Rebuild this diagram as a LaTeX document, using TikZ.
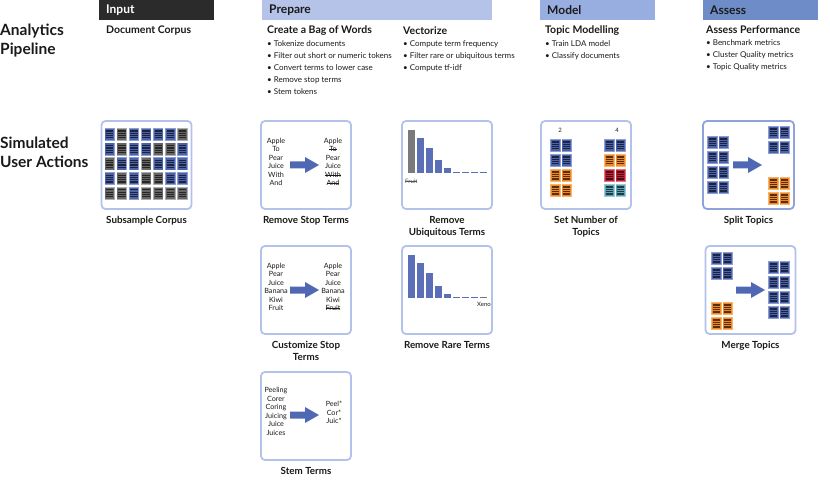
\documentclass[tikz,border=0pt]{standalone}
\usepackage{fontspec}
\setmainfont{Lato}
\usepackage{tikz}
\usetikzlibrary{positioning}
\definecolor{ink}{HTML}{1A1A1A}
\definecolor{inputbar}{HTML}{2B2B2B}
\definecolor{preparebar}{HTML}{B5C3E8}
\definecolor{modelbar}{HTML}{98ADE0}
\definecolor{assessbar}{HTML}{6E8DC8}
\definecolor{panelline}{HTML}{B3C2EA}
\definecolor{panelsplit}{HTML}{8FA3DA}
\definecolor{arrowblue}{HTML}{5068B4}
\definecolor{barblue}{HTML}{5A6FB8}
\definecolor{bargray}{HTML}{7A7A7A}
% document icon colours: F fill, E edge, S stripes
\definecolor{cbF}{HTML}{4D63A8}\definecolor{cbE}{HTML}{8D9DD6}\definecolor{cbS}{HTML}{1C2340}
\definecolor{cgF}{HTML}{666666}\definecolor{cgE}{HTML}{AEAEAE}\definecolor{cgS}{HTML}{262626}
\definecolor{coF}{HTML}{EE8A26}\definecolor{coE}{HTML}{F6B46C}\definecolor{coS}{HTML}{5A2E0A}
\definecolor{crF}{HTML}{C4203A}\definecolor{crE}{HTML}{E27482}\definecolor{crS}{HTML}{4A0A14}
\definecolor{ctF}{HTML}{5AA4B6}\definecolor{ctE}{HTML}{9CCBD6}\definecolor{ctS}{HTML}{1E3A42}
\newsavebox{\strkbox}
\newcommand{\strk}[1]{\sbox{\strkbox}{#1}\rlap{\rule[0.3em]{\wd\strkbox}{0.4pt}}\usebox{\strkbox}}
\tikzset{
  sidetitle/.style={anchor=west, align=left, inner sep=0pt, text=ink, font=\fontsize{15.5}{19}\selectfont\bfseries},
  barhdr/.style={anchor=north west, minimum height=20pt, inner xsep=7pt, inner ysep=0pt,
    text width=101pt, align=left, font=\fontsize{12}{14}\selectfont\bfseries},
  stepHead/.style={anchor=west, inner sep=0pt, text=ink, font=\fontsize{10.5}{12}\selectfont\bfseries},
  bulletList/.style={anchor=north west, inner sep=0pt, align=left, text=ink, font=\fontsize{8}{12.2}\selectfont},
  panel/.style={draw=panelline, line width=1.8pt, rounded corners=4pt, minimum width=90pt, minimum height=88pt, inner sep=0pt},
  boxlbl/.style={align=center, inner sep=1pt, text=ink, font=\fontsize{9.8}{12}\selectfont\bfseries},
  wordcol/.style={align=center, inner sep=0pt, text=ink, font=\fontsize{7.2}{8.5}\selectfont},
  tinylbl/.style={inner sep=0pt, text=ink, font=\fontsize{6}{7}\selectfont},
  pics/doc/.style={code={
    \fill[#1E] (0,0) rectangle (10.5,13);
    \fill[#1F] (0.8,0.8) rectangle (9.7,12.2);
    \foreach \s in {2.4,4.7,7.0,9.3} \fill[#1S] (1.6,\s) rectangle (8.9,\s+1.2);
  }},
  pics/fatarrow/.style={code={
    \fill[arrowblue] (0,-3.5) -- (15,-3.5) -- (15,-8) -- (29,0) -- (15,8) -- (15,3.5) -- (0,3.5) -- cycle;
  }},
}
\newcommand{\DocBlock}[5]{% x, y, columns, rows, colour
  \foreach \cc in {1,...,#3} \foreach \rr in {1,...,#4}
    \pic at ({#1+11.5*(\cc-1)},{#2+15*(\rr-1)}) {doc=#5};
}

\begin{document}
\begin{tikzpicture}[x=1pt, y=-1pt]
  \useasboundingbox (0,0) rectangle (830,492);

  \node[sidetitle] (pipe) at (0,40.5) {Analytics\\Pipeline};
  \node[sidetitle] (users) at (0,152.5) {Simulated\\User Actions};

  \node[barhdr, fill=inputbar, text=white] (input) at (99,0) {Input};
  \node[barhdr, fill=preparebar, text=ink, text width=216pt] (prepare) at (262,0) {Prepare};
  \node[barhdr, fill=modelbar, text=ink] (model) at (540,0) {Model};
  \node[barhdr, fill=assessbar, text=ink] (assess) at (703,0) {Assess};

  \node[stepHead, font=\fontsize{10.5}{12}\selectfont\bfseries] (corpus) at (106,31) {Document Corpus};
  \node[stepHead] (bag) at (267,31) {Create a Bag of Words};
  \node[bulletList] (bagitems) at (267,40) {• Tokenize documents\\• Filter out short or numeric tokens\\• Convert terms to lower case\\• Remove stop terms\\• Stem tokens};
  \node[stepHead] (vec) at (403,31) {Vectorize};
  \node[bulletList] (vecitems) at (403,40) {• Compute term frequency\\• Filter rare or ubiquitous terms\\• Compute tf-idf};
  \node[stepHead] (topic) at (545,31) {Topic Modelling};
  \node[bulletList] (topicitems) at (545,40) {• Train LDA model\\• Classify documents};
  \node[stepHead] (perf) at (706,30) {Assess Performance};
  \node[bulletList] (perfitems) at (706,39) {• Benchmark metrics\\• Cluster Quality metrics\\• Topic Quality metrics};

  % panels
  \node[panel] (sub) at (146.5,165) {};
  \node[panel] (stop) at (306,165) {};
  \node[panel] (ubiq) at (447,165) {};
  \node[panel] (ntopics) at (586,165) {};
  \node[panel, draw=panelsplit, minimum width=91pt] (split) at (748.5,165) {};
  \node[panel] (custom) at (306,290) {};
  \node[panel] (rare) at (447,290) {};
  \node[panel] (merge) at (750.5,290) {};
  \node[panel] (stem) at (306,416) {};

  \node[boxlbl, below=5pt of sub] (sublbl) {Subsample Corpus};
  \node[boxlbl, below=5pt of stop] (stoplbl) {Remove Stop Terms};
  \node[boxlbl, below=5pt of ubiq] (ubiqlbl) {Remove\\Ubiquitous Terms};
  \node[boxlbl, below=5pt of ntopics] (ntopicslbl) {Set Number of\\Topics};
  \node[boxlbl, below=5pt of split] (splitlbl) {Split Topics};
  \node[boxlbl, below=5pt of custom] (customlbl) {Customize Stop\\Terms};
  \node[boxlbl, below=5pt of rare] (rarelbl) {Remove Rare Terms};
  \node[boxlbl, below=5pt of merge] (mergelbl) {Merge Topics};
  \node[boxlbl, below=5pt of stem] (stemlbl) {Stem Terms};

  % subsample grid
  \foreach \row [count=\r from 0] in {{cb,cg,cb,cb,cb,cb,cg},{cb,cg,cb,cb,cg,cg,cb},{cg,cb,cb,cg,cb,cb,cb},{cb,cg,cb,cg,cg,cb,cb},{cg,cg,cb,cg,cg,cg,cg}}
    \foreach \c [count=\k from 0] in \row
      \pic at ({104.5+12.1*\k},{128+14.7*\r}) {doc=\c};

  % word lists
  \node[wordcol] (stopL) at (276,162) {Apple\\To\\Pear\\Juice\\With\\And};
  \node[wordcol] (stopR) at (333,162) {Apple\\\strk{To}\\Pear\\Juice\\\strk{With}\\\strk{And}};
  \pic at (290,165) {fatarrow};
  \node[wordcol] (custL) at (276,287) {Apple\\Pear\\Juice\\Banana\\Kiwi\\Fruit};
  \node[wordcol] (custR) at (333,287) {Apple\\Pear\\Juice\\Banana\\Kiwi\\\strk{Fruit}};
  \pic at (290,290) {fatarrow};
  \node[wordcol] (stemL) at (276,411.5) {Peeling\\Corer\\Coring\\Juicing\\Juice\\Juices};
  \node[wordcol] (stemR) at (334,412.5) {Peel*\\Cor*\\Juic*};
  \pic at (290,415) {fatarrow};

  % term frequency bars
  \fill[bargray] (408,173) rectangle ++(7,-43);
  \foreach \h [count=\i] in {35,25,13,5,1.5,1.5,1.5,1.5}
    \fill[barblue] ({408+9*\i},173) rectangle ++(7,-\h);
  \node[tinylbl, anchor=west, text=bargray!70!black] (fruit) at (405,181) {\strk{Fruit}};
  \foreach \h [count=\i from 0] in {43,35,25,12,4,1.5,1.5,1.5}
    \fill[barblue] ({408+9*\i},298) rectangle ++(7,-\h);
  \fill[bargray] (480,298) rectangle ++(7,-1.5);
  \node[tinylbl] (xeno) at (484,304) {Xeno};

  % topics
  \node[tinylbl] (two) at (560,130) {2};
  \node[tinylbl] (four) at (617,130) {4};
  \DocBlock{550}{139}{2}{2}{cb}
  \DocBlock{550}{169}{2}{2}{co}
  \DocBlock{604}{139}{2}{1}{cb}
  \DocBlock{604}{154}{2}{1}{co}
  \DocBlock{604}{169}{2}{1}{cr}
  \DocBlock{604}{184}{2}{1}{ct}

  \DocBlock{707}{136}{2}{4}{cb}
  \pic at (733,165) {fatarrow};
  \DocBlock{768}{126}{2}{2}{cb}
  \DocBlock{768}{177}{2}{2}{co}

  \DocBlock{711}{252}{2}{2}{cb}
  \DocBlock{711}{302}{2}{2}{co}
  \pic at (736,290) {fatarrow};
  \DocBlock{768}{261}{2}{4}{cb}
\end{tikzpicture}
\end{document}
